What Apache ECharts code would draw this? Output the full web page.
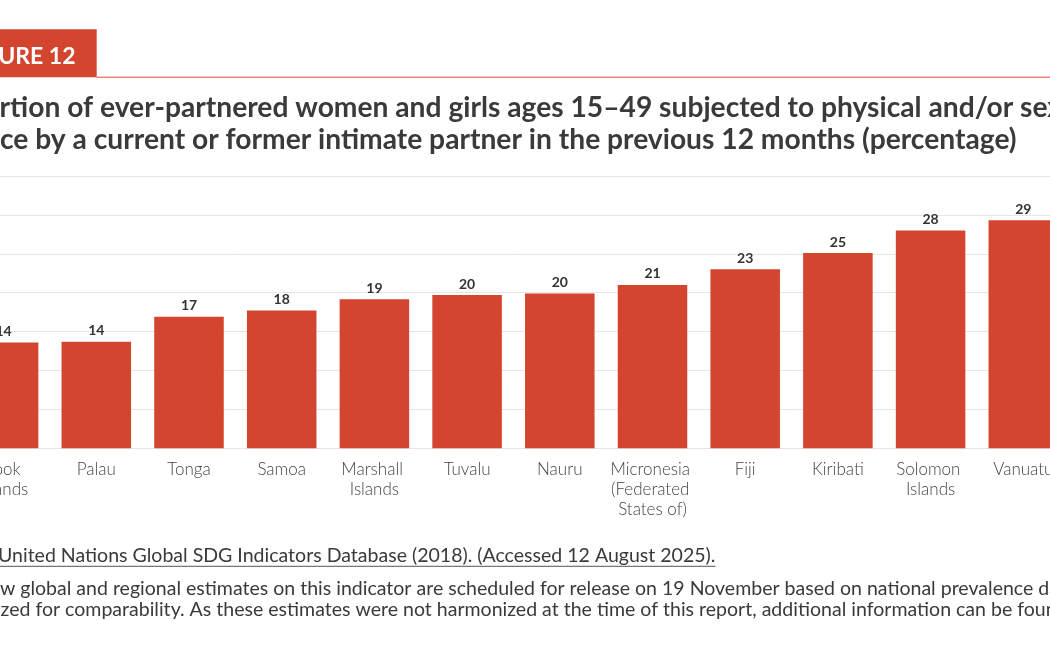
<!DOCTYPE html>
<html><head><meta charset="utf-8">
<script src="https://cdn.jsdelivr.net/npm/echarts@6/dist/echarts.min.js"></script>
<style>
html,body{margin:0;padding:0;overflow:hidden;background:#fff;width:1050px;height:656px}
#wrap{position:absolute;left:-120px;top:0;width:1300px;height:656px}
</style>
</head><body><div id="wrap"></div>
<script>
// ---- data ----
const categories = ['Cook Islands','Palau','Tonga','Samoa','Marshall Islands','Tuvalu','Nauru','Micronesia (Federated States of)','Fiji','Kiribati','Solomon Islands','Vanuatu'];
const values = [13.6, 13.7, 16.9, 17.7, 19.15, 19.7, 19.9, 21.0, 23.0, 25.1, 28.0, 29.3];
const yTicks = [0, 5, 10, 15, 20, 25, 30, 35];
const figureLabel = 'FIGURE 12';
const titleLines = [
  'Proportion of ever-partnered women and girls ages 15\u201349 subjected to physical and/or sexual',
  'violence by a current or former intimate partner in the previous 12 months (percentage)'
];
const sourcePrefix = 'Source: ';
const sourceLink = 'United Nations Global SDG Indicators Database (2018). (Accessed 12 August 2025).';
const noteLines = [
  'Note: New global and regional estimates on this indicator are scheduled for release on 19 November based on national prevalence data',
  'harmonized for comparability. As these estimates were not harmonized at the time of this report, additional information can be found in the technical notes.'
];

// ---- layout helpers ----
const OFF = 120; // wrapper offset (chart x = screen x + OFF)
const FONT = 'Lato, "Open Sans", sans-serif';
const cv = document.createElement('canvas').getContext('2d');
function tw(txt, size, weight) { cv.font = (weight || 'normal') + ' ' + size + 'px ' + FONT; return cv.measureText(txt).width; }

// title sizing: line 2 visible part "ce by ... (percentage)" spans screen 0..1017
const t2vis = titleLines[1].slice(6);
const tfs = 24 * 1017 / tw(t2vis, 24, 'bold');
const tX = OFF - tw(titleLines[1].slice(0, 6), tfs, 'bold');

// footnote sizing: link spans screen -2..716
const ffs = 18 * 718 / tw(sourceLink, 18, 'normal');
const linkX = OFF - 2;
const fX = linkX - tw(sourcePrefix, ffs, 'normal');
const linkW = tw(sourceLink, ffs, 'normal');
const n1X = OFF - tw(noteLines[0].slice(0, 8), ffs, 'normal');
const n2X = OFF + 0.5 - tw(noteLines[1].slice(0, 7), ffs, 'normal');

const textColor = '#3a3a3a';
const red = '#d4452f';

function txt(text, x, yBase, size, weight, fill, align) {
  return {
    type: 'text', silent: true,
    style: {
      text: text, x: x, y: yBase - 0.3 * size,
      font: (weight || 'normal') + ' ' + size + 'px ' + FONT,
      fontSize: size, fontWeight: weight || 'normal', fontFamily: FONT,
      fill: fill, align: align || 'left', textAlign: align || 'left',
      verticalAlign: 'middle', textVerticalAlign: 'middle'
    }
  };
}

const chart = echarts.init(document.getElementById('wrap'), null, { renderer: 'canvas' });
chart.setOption({
  backgroundColor: '#ffffff',
  animation: false,
  textStyle: { fontFamily: FONT },
  grid: { left: 77.25, right: 110.35, top: 176, bottom: 207.7, containLabel: false },
  xAxis: {
    type: 'category', data: categories,
    axisLine: { show: false }, axisTick: { show: false },
    axisLabel: {
      interval: 0, margin: 11, fontSize: 17, fontWeight: 300, color: '#444',
      lineHeight: 20, width: 90, overflow: 'break', fontFamily: FONT
    }
  },
  yAxis: {
    type: 'value', min: yTicks[0], max: yTicks[yTicks.length - 1], interval: yTicks[1] - yTicks[0],
    axisLabel: { show: false }, axisLine: { show: false }, axisTick: { show: false },
    splitLine: { lineStyle: { color: '#e6e6e6', width: 1 } }
  },
  series: [{
    type: 'bar', data: values, barCategoryGap: '25%',
    itemStyle: { color: red },
    label: {
      show: true, position: 'top', distance: 4, fontSize: 14, fontWeight: 'bold', color: '#333',
      fontFamily: FONT, formatter: p => String(Math.round(p.value))
    }
  }],
  graphic: { elements: [
    { type: 'rect', silent: true, shape: { x: 0, y: 29.3, width: 96.7 + OFF, height: 48 }, style: { fill: red } },
    { type: 'line', silent: true, shape: { x1: 96.7 + OFF, y1: 77.3, x2: 1300, y2: 77.3 }, style: { stroke: '#ea8a7f', lineWidth: 1.5 } },
    txt(figureLabel, 75.5 + OFF, 63.3, 23, 'bold', '#ffffff', 'right'),
    txt(titleLines[0], tX, 116.7, tfs, 'bold', textColor),
    txt(titleLines[1], tX, 148.3, tfs, 'bold', textColor),
    txt(sourcePrefix, fX, 561.7, ffs, 'normal', textColor),
    txt(sourceLink, linkX, 561.7, ffs, 'normal', textColor),
    { type: 'line', silent: true, shape: { x1: linkX, y1: 566.3, x2: linkX + linkW, y2: 566.3 }, style: { stroke: '#555', lineWidth: 1 } },
    txt(noteLines[0], n1X, 594.3, ffs, 'normal', textColor),
    txt(noteLines[1], n2X, 615.5, ffs, 'normal', textColor)
  ]}
});
</script>
</body></html>
